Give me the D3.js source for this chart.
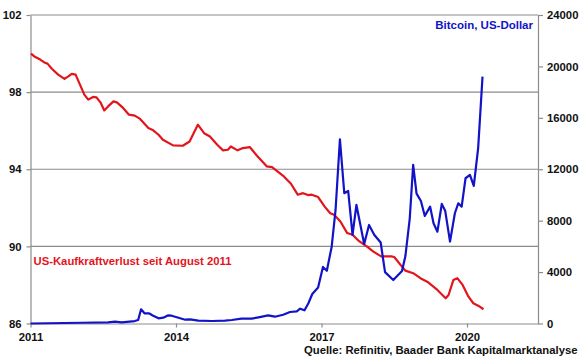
<!DOCTYPE html>
<html><head><meta charset="utf-8">
<script src="https://cdn.jsdelivr.net/npm/d3@7"></script>
<style>
body{margin:0;background:#fff}
svg{display:block}
text{font-family:"Liberation Sans",Arial,sans-serif;font-weight:bold}
</style>
</head><body>
<svg id="chart" width="580" height="359"></svg>
<script>
// ---- data ----
const xTickYears = [2011, 2014, 2017, 2020];
const leftTicks = [86, 90, 94, 98, 102];
const rightTicks = [0, 4000, 8000, 12000, 16000, 20000, 24000];

const cpiDates = [2011.01,2011.09,2011.20,2011.30,2011.35,2011.44,2011.57,2011.70,2011.78,2011.85,2011.93,
  2012.02,2012.11,2012.19,2012.29,2012.36,2012.45,2012.52,2012.60,2012.71,2012.78,2012.91,
  2013.03,2013.15,2013.26,2013.43,2013.53,2013.64,2013.73,2013.94,
  2014.14,2014.28,2014.45,2014.58,2014.70,2014.85,2014.97,
  2015.07,2015.13,2015.27,2015.38,2015.52,2015.67,2015.87,2015.98,
  2016.21,2016.37,2016.51,2016.62,2016.72,2016.80,2016.93,
  2017.07,2017.18,2017.26,2017.39,2017.53,2017.64,2017.76,2017.94,
  2018.07,2018.23,2018.44,2018.50,2018.63,2018.73,2018.89,
  2019.04,2019.18,2019.39,2019.56,2019.62,2019.72,2019.80,2019.91,
  2020.03,2020.13,2020.24,2020.34];
const cpiValues = [100.0,99.83,99.69,99.52,99.48,99.21,98.91,98.69,98.82,98.95,98.91,
  98.39,97.87,97.61,97.75,97.73,97.44,97.05,97.26,97.52,97.47,97.18,
  96.83,96.78,96.61,96.14,96.02,95.79,95.53,95.24,
  95.22,95.44,96.31,95.87,95.70,95.27,94.98,
  95.01,95.18,94.98,95.10,95.15,94.70,94.15,94.11,
  93.66,93.25,92.68,92.76,92.66,92.68,92.56,
  92.05,91.72,91.64,91.29,90.69,90.60,90.30,89.99,
  89.73,89.48,89.48,89.45,89.04,88.74,88.61,
  88.35,88.17,87.74,87.31,87.48,88.26,88.35,88.00,
  87.39,87.05,86.91,86.74];

const btcDates = [2011.00,2012.06,2012.60,2012.74,2012.88,2013.15,2013.22,2013.28,2013.35,2013.44,2013.53,
  2013.64,2013.74,2013.84,2013.91,2014.05,2014.19,2014.29,2014.46,2014.74,2015.01,2015.15,
  2015.35,2015.56,2015.70,2015.90,2016.04,2016.21,2016.35,2016.49,2016.56,2016.65,2016.73,
  2016.81,2016.93,2017.03,2017.11,2017.21,2017.29,2017.38,2017.47,2017.55,2017.64,2017.72,
  2017.88,2017.98,2018.09,2018.22,2018.31,2018.48,2018.66,2018.73,2018.82,2018.89,2018.96,
  2019.05,2019.13,2019.24,2019.31,2019.39,2019.48,2019.55,2019.65,2019.75,2019.82,2019.89,
  2019.97,2020.06,2020.14,2020.23,2020.32];
const btcValues = [0,60,90,140,90,190,270,1105,794,794,607,
  405,451,638,607,451,296,327,218,195,218,272,
  374,374,482,638,529,685,895,949,1152,1027,1572,
  2296,2800,4400,4100,5977,8833,14335,10132,10311,6887,9222,
  6187,7665,6887,6300,4000,3385,4085,5250,8187,12335,10100,
  9530,8370,9089,7797,7144,9300,8778,6366,8576,9354,9089,
  11300,11556,10700,13634,19206];

const labelBtc = "Bitcoin, US-Dollar";
const labelCpi = "US-Kaufkraftverlust seit August 2011";
const labelSource = "Quelle: Refinitiv, Baader Bank Kapitalmarktanalyse";

// ---- layout ----
const L = 30.5, R = 538, T = 15, B = 323.5;
const gridCol = "#8c8c8c", red = "#e3141c", blue = "#1212c8";

const svg = d3.select("#chart");
const x = d3.scaleLinear().domain([2011, 2011 + (R - L) / 48.5]).range([L, R]);
const yL = d3.scaleLinear().domain([86, 102]).range([B, T]);
const yR = d3.scaleLinear().domain([0, 24000]).range([B, T]);

// gridlines
svg.append("g").selectAll("line").data(leftTicks.filter(d => d > 86)).join("line")
  .attr("x1", L).attr("x2", R).attr("y1", d => yL(d)).attr("y2", d => yL(d))
  .attr("stroke", gridCol).attr("stroke-width", 1.2);

function styleAxis(g) {
  g.select(".domain").attr("stroke", gridCol).attr("stroke-width", 1.2);
  g.selectAll(".tick line").attr("stroke", gridCol).attr("stroke-width", 1.2);
  g.selectAll("text").attr("fill", "#111").style("font-size", "11.3px")
    .style("font-family", '"Liberation Sans",Arial,sans-serif').style("font-weight", "bold");
}

svg.append("g").attr("transform", `translate(${L},0)`)
  .call(d3.axisLeft(yL).tickValues(leftTicks).tickSize(4).tickPadding(5).tickSizeOuter(0))
  .call(styleAxis);
svg.append("g").attr("transform", `translate(${R},0)`)
  .call(d3.axisRight(yR).tickValues(rightTicks).tickSize(5).tickPadding(4).tickSizeOuter(0).tickFormat(d3.format("d")))
  .call(styleAxis);
svg.append("g").attr("transform", `translate(0,${B})`)
  .call(d3.axisBottom(x).tickValues(xTickYears).tickSize(4).tickPadding(5.5).tickSizeOuter(0).tickFormat(d3.format("d")))
  .call(styleAxis);

// lines
const cpi = cpiDates.map((d, i) => [d, cpiValues[i]]);
const btc = btcDates.map((d, i) => [d, btcValues[i]]);

svg.append("path").datum(cpi)
  .attr("fill", "none").attr("stroke", red).attr("stroke-width", 2.2).attr("stroke-linejoin", "round")
  .attr("d", d3.line().x(d => x(d[0])).y(d => yL(d[1])));
svg.append("path").datum(btc)
  .attr("fill", "none").attr("stroke", blue).attr("stroke-width", 2.2).attr("stroke-linejoin", "round")
  .attr("d", d3.line().x(d => x(d[0])).y(d => yR(d[1])));

// labels
svg.append("text").attr("x", 533).attr("y", 29).attr("text-anchor", "end")
  .attr("fill", blue).style("font-size", "11.5px").text(labelBtc);
svg.append("text").attr("x", 33.5).attr("y", 265)
  .attr("fill", red).style("font-size", "11.8px")
  .attr("textLength", 198).attr("lengthAdjust", "spacingAndGlyphs").text(labelCpi);
svg.append("text").attr("x", 577.5).attr("y", 354).attr("text-anchor", "end")
  .attr("fill", "#111").style("font-size", "11.3px").text(labelSource);
</script>
</body></html>
